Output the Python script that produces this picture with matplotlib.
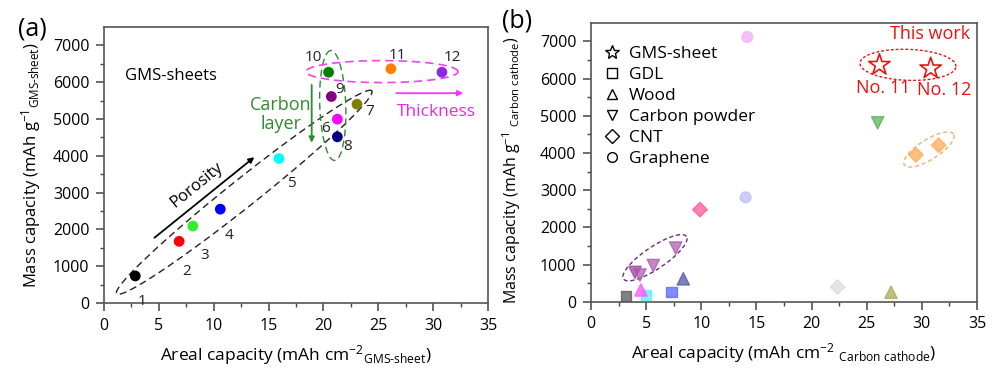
import numpy as np
import matplotlib
matplotlib.use('Agg')
import matplotlib.pyplot as plt
from matplotlib.lines import Line2D

plt.rcParams['font.family'] = ['Open Sans', 'DejaVu Sans']
plt.rcParams['mathtext.fontset'] = 'custom'
plt.rcParams['mathtext.rm'] = 'Open Sans'
plt.rcParams['mathtext.it'] = 'Open Sans'

# ---- panel (a) data: GMS-sheets ----
gms_areal = [2.85, 6.85, 8.1, 10.6, 15.95, 21.27, 23.06, 21.27, 20.72, 20.47, 26.15, 30.8]
gms_mass = [735, 1675, 2090, 2550, 3925, 4995, 5400, 4515, 5610, 6270, 6365, 6270]
gms_colors = ['#000000', '#ff0000', '#33ee33', '#0000ff', '#00ffff', '#ff00ff',
              '#808000', '#000080', '#800080', '#008000', '#ff8000', '#8a2be2']
gms_labels = ['1', '2', '3', '4', '5', '6', '7', '8', '9', '10', '11', '12']
gms_label_x = [3.45, 7.5, 9.2, 11.4, 17.1, 20.2, 24.2, 22.2, 21.45, 19.1, 26.7, 31.8]
gms_label_y = [30, 850, 1300, 1840, 3260, 4750, 5200, 4240, 5790, 6660, 6720, 6680]

# ---- panel (b) data: literature comparison ----
gdl_x = [3.17, 4.96, 7.31]
gdl_y = [140, 185, 260]
gdl_c = ['#555555', '#55eeff', '#5566ff']
wood_x = [4.53, 8.37, 27.2]
wood_y = [320, 620, 260]
wood_c = ['#ff55ff', '#5555aa', '#aaaa55']
powder_x = [3.99, 4.44, 5.65, 7.68, 25.99]
powder_y = [790, 720, 975, 1445, 4810]
powder_c = ['#9a3a9a', '#aa55aa', '#aa55aa', '#aa55aa', '#55aa55']
cnt_x = [9.88, 22.36, 29.46, 31.52]
cnt_y = [2477, 396, 3950, 4209]
cnt_c = ['#ff5599', '#dddddd', '#ffaa55', '#ffaa55']
graphene_x = [14.17, 14.02]
graphene_y = [7115, 2808]
graphene_c = ['#f5b0f5', '#c0c0f5']
star_x = [26.15, 30.8]
star_y = [6365, 6270]

legend_names = ['GMS-sheet', 'GDL', 'Wood', 'Carbon powder', 'CNT', 'Graphene']
legend_markers = ['*', 's', '^', 'v', 'D', 'o']


def dashed_ellipse(ax, cx, cy, a_px, b_px, angle, **kw):
    # ellipse defined in screen pixels so the tilt is not distorted by the axis scales
    t = np.linspace(0, 2 * np.pi, 200)
    c = ax.transData.transform((cx, cy))
    th = np.deg2rad(angle)
    px = c[0] + a_px * np.cos(t) * np.cos(th) - b_px * np.sin(t) * np.sin(th)
    py = c[1] + a_px * np.cos(t) * np.sin(th) + b_px * np.sin(t) * np.cos(th)
    pts = ax.transData.inverted().transform(np.column_stack([px, py]))
    ax.plot(pts[:, 0], pts[:, 1], **kw)


def style_axis(ax):
    ax.set_xlim(0, 35)
    ax.set_ylim(0, 7500)
    ax.set_xticks(np.arange(0, 36, 5))
    ax.set_yticks(np.arange(0, 7001, 1000))
    ax.set_xticks(np.arange(2.5, 35, 5), minor=True)
    ax.set_yticks(np.arange(500, 7500, 1000), minor=True)
    ax.tick_params(which='major', direction='out', length=5.5, width=1.1, labelsize=11.5,
                   color='#444444', pad=5)
    ax.tick_params(which='minor', direction='out', length=3, width=1.0, color='#444444')
    for s in ax.spines.values():
        s.set_color('#555555')
        s.set_linewidth(1.2)


fig = plt.figure(figsize=(10, 3.85), dpi=100)
ax1 = fig.add_axes([0.104, 0.213, 0.384, 0.717])
ax2 = fig.add_axes([0.591, 0.216, 0.386, 0.725])
style_axis(ax1)
style_axis(ax2)

# ---------------- panel (a) ----------------
ax1.scatter(gms_areal, gms_mass, s=60, c=gms_colors, zorder=3, linewidths=0)
for lx, ly, lab in zip(gms_label_x, gms_label_y, gms_labels):
    ax1.text(lx, ly, lab, fontsize=11, ha='center', va='center', color='#222222')

dashed_ellipse(ax1, 12.78, 3008, 163, 14, 38.5, color='#222222', lw=1.0, ls=(0, (5, 3)))
dashed_ellipse(ax1, 20.85, 5366, 55, 13, 92, color='#2e8b2e', lw=1.0, ls=(0, (5, 3)))
dashed_ellipse(ax1, 25.34, 6287, 76, 11, 0, color='#ee44ee', lw=1.2, ls=(0, (5, 3)))

ax1.annotate('', xy=(13.9, 4010), xytext=(4.4, 1725),
             arrowprops=dict(arrowstyle='-|>', color='black', lw=1.3, mutation_scale=8))
ax1.text(8.45, 3200, 'Porosity', rotation=39, fontsize=12, ha='center', va='center',
         rotation_mode='anchor')
ax1.annotate('', xy=(18.93, 4280), xytext=(18.93, 6000),
             arrowprops=dict(arrowstyle='-|>', color='#2e8b2e', lw=1.3, mutation_scale=8))
ax1.text(16.1, 5120, 'Carbon\nlayer', color='#2e8b2e', fontsize=13, ha='center', va='center',
         linespacing=1.05)
ax1.annotate('', xy=(33.0, 5700), xytext=(26.4, 5700),
             arrowprops=dict(arrowstyle='-|>', color='#ff33ff', lw=1.3, mutation_scale=8))
ax1.text(30.3, 5200, 'Thickness', color='#ee22ee', fontsize=12.5, ha='center', va='center')
ax1.text(1.9, 6180, 'GMS-sheets', fontsize=12, ha='left', va='center')

ax1.set_xlabel(r'Areal capacity (mAh cm$^{-2}$$_{\text{GMS-sheet}}$)', fontsize=12.5, labelpad=7)
ax1.set_ylabel(r'Mass capacity (mAh g$^{-1}$$_{\text{GMS-sheet}}$)', fontsize=12, labelpad=7)

# ---------------- panel (b) ----------------
ax2.scatter(gdl_x, gdl_y, marker='s', s=55, c=gdl_c, alpha=0.75, edgecolors=gdl_c, zorder=3)
ax2.scatter(wood_x, wood_y, marker='^', s=80, c=wood_c, alpha=0.75, edgecolors=wood_c, zorder=3)
ax2.scatter(powder_x, powder_y, marker='v', s=80, c=powder_c, alpha=0.7, edgecolors=powder_c, zorder=3)
ax2.scatter(cnt_x, cnt_y, marker='D', s=55, c=cnt_c, alpha=0.75, edgecolors=cnt_c, zorder=3)
ax2.scatter(graphene_x, graphene_y, marker='o', s=60, c=graphene_c, alpha=0.8, edgecolors=graphene_c, zorder=3)
ax2.scatter(star_x, star_y, marker='*', s=260, facecolors='none', edgecolors='#ee1111', linewidths=1.2, zorder=3)

dashed_ellipse(ax2, 28.74, 6368, 48, 15.5, -2, color='#ee1111', lw=1.0, ls=(0, (2, 1.5)))
dashed_ellipse(ax2, 30.64, 4093, 29, 10, 32, color='#f0b070', lw=1.0, ls=(0, (3, 2)))
dashed_ellipse(ax2, 5.80, 1185, 38, 11, 34, color='#6a2a8a', lw=1.0, ls=(0, (3, 2)))

ax2.text(30.7, 7190, 'This work', color='#ee1111', fontsize=13, ha='center', va='center')
ax2.text(26.5, 5750, 'No. 11', color='#ee1111', fontsize=13, ha='center', va='center')
ax2.text(32.0, 5690, 'No. 12', color='#ee1111', fontsize=13, ha='center', va='center')

handles = [Line2D([], [], ls='none', marker=m, markersize=(10 if m == '*' else 7),
                  markerfacecolor='none', markeredgecolor='black', markeredgewidth=1.0)
           for m in legend_markers]
ax2.legend(handles, legend_names, loc='upper left', bbox_to_anchor=(0.0, 0.962), frameon=False,
           fontsize=12.5, handlelength=1.0, handletextpad=0.5, labelspacing=0.28, borderaxespad=0.3)

ax2.set_xlabel(r'Areal capacity (mAh cm$^{-2}$ $_{\text{Carbon cathode}}$)', fontsize=12.5, labelpad=6)
ax2.set_ylabel(r'Mass capacity (mAh g$^{-1}$ $_{\text{Carbon cathode}}$)', fontsize=11.5)
ax2.yaxis.set_label_coords(-0.175, 0.47)

fig.text(0.018, 0.925, '(a)', fontsize=18, va='center')
fig.text(0.502, 0.945, '(b)', fontsize=18, va='center')

fig.savefig('out.png', dpi=100)
